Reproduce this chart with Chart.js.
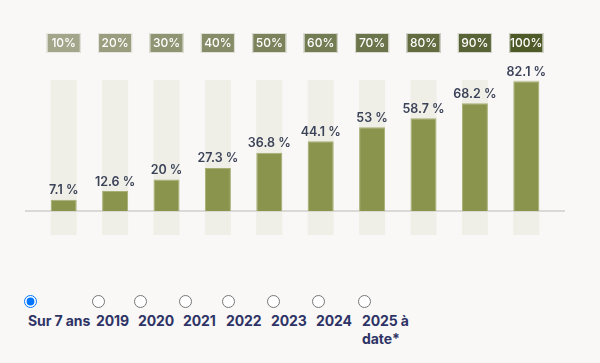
<!DOCTYPE html>
<html>
<head>
<meta charset="utf-8">
<script src="https://cdn.jsdelivr.net/npm/chart.js@4"></script>
<style>
  html,body{margin:0;padding:0;background:#f9f8f6;width:600px;height:363px;overflow:hidden;font-family:Inter,"Noto Sans",sans-serif;}
  #wrap{position:absolute;left:0;top:0;width:600px;height:255px;}
  #radios{position:absolute;left:28px;top:295px;display:flex;gap:0;align-items:flex-start;}
  #radios label{display:flex;flex-direction:column;align-items:flex-start;color:#2f3466;font-weight:700;font-size:14px;line-height:18px;letter-spacing:-0.1px;white-space:nowrap;}
  #radios input{margin:0 0 4px -4px;width:13px;height:13px;}
  #radios label:nth-child(1){width:68px;}
  #radios label:nth-child(2){width:42px;}
  #radios label:nth-child(3){width:45px;}
  #radios label:nth-child(4){width:43px;}
  #radios label:nth-child(5){width:45px;}
  #radios label:nth-child(6){width:45px;}
  #radios label:nth-child(7){width:46px;}
  #radios label:nth-child(8){width:52px;white-space:normal;}
</style>
</head>
<body>
<div id="wrap"><canvas id="c" width="600" height="255"></canvas></div>
<div id="radios"></div>
<script>
const categories = ['10%','20%','30%','40%','50%','60%','70%','80%','90%','100%'];
const values = [7.1, 12.6, 20, 27.3, 36.8, 44.1, 53, 58.7, 68.2, 82.1];
const valueLabels = ['7.1 %','12.6 %','20 %','27.3 %','36.8 %','44.1 %','53 %','58.7 %','68.2 %','82.1 %'];
const scaleColors = ['#a3a68a','#9a9e7e','#8f9472','#868c67','#7c835c','#747c53','#6b744a','#626c40','#586336','#4e5a27'];
const trackRange = [-15.2, 82.9];
const radioOptions = ['Sur 7 ans','2019','2020','2021','2022','2023','2024','2025 à date*'];

const trackData = categories.map(() => trackRange);

const topBoxes = {
  id:'topBoxes',
  afterDraw(chart){
    const ctx = chart.ctx, x = chart.scales.x;
    ctx.save();
    ctx.font = '500 12px Inter, "Noto Sans", sans-serif';
    ctx.textAlign = 'center'; ctx.textBaseline = 'middle';
    categories.forEach((t,i)=>{
      const cx = x.getPixelForValue(i);
      const w = 34, h = 20, y0 = 33;
      ctx.fillStyle = scaleColors[i];
      ctx.fillRect(cx - w/2, y0, w, h);
      ctx.strokeStyle = 'rgba(255,255,255,0.75)'; ctx.lineWidth = 1;
      ctx.strokeRect(cx - w/2 + 0.5, y0 + 0.5, w - 1, h - 1);
      ctx.fillStyle = '#ffffff';
      ctx.fillText(t, cx, y0 + h/2 + 0.5);
    });
    ctx.restore();
  }
};

const baseLine = {
  id:'baseLine',
  afterDatasetDraw(chart, args){
    if(args.index !== 0) return;
    const ctx = chart.ctx, y = chart.scales.y, a = chart.chartArea;
    const py = Math.round(y.getPixelForValue(0));
    ctx.save();
    ctx.fillStyle = '#d9d9d5';
    ctx.fillRect(a.left - 13, py - 1, (a.right - a.left) + 26, 2);
    ctx.restore();
  }
};

const valueLbl = {
  id:'valueLbl',
  afterDatasetsDraw(chart){
    const ctx = chart.ctx;
    const meta = chart.getDatasetMeta(1);
    ctx.save();
    ctx.font = '600 12.5px Inter, "Noto Sans", sans-serif';
    ctx.fillStyle = '#3c4359';
    ctx.textAlign = 'center'; ctx.textBaseline = 'bottom';
    meta.data.forEach((bar,i)=>{
      ctx.fillText(valueLabels[i], bar.x, bar.y - 3);
    });
    ctx.restore();
  }
};

new Chart(document.getElementById('c'), {
  type:'bar',
  data:{
    labels: categories,
    datasets:[
      {data: trackData, backgroundColor:'#efefe7', borderWidth:0, grouped:false, barPercentage:0.506, categoryPercentage:1, order:2},
      {data: values, backgroundColor:'#8a944c', borderColor:'#a7af74', borderWidth:1, borderSkipped:'bottom', grouped:false, barPercentage:0.506, categoryPercentage:1, order:1}
    ]
  },
  options:{
    responsive:false, animation:false, devicePixelRatio:1,
    layout:{padding:{left:38, right:48, top:53, bottom:18.7}},
    plugins:{legend:{display:false}, tooltip:{enabled:false}},
    scales:{
      x:{display:false, grid:{display:false}},
      y:{display:false, min:-16, max:100, grid:{display:false}}
    }
  },
  plugins:[baseLine, valueLbl, topBoxes]
});

const rc = document.getElementById('radios');
radioOptions.forEach((t,i)=>{
  const l = document.createElement('label');
  const inp = document.createElement('input');
  inp.type='radio'; inp.name='p'; if(i===0) inp.checked = true;
  const s = document.createElement('span'); s.textContent = t;
  l.appendChild(inp); l.appendChild(s); rc.appendChild(l);
});
</script>
</body>
</html>
